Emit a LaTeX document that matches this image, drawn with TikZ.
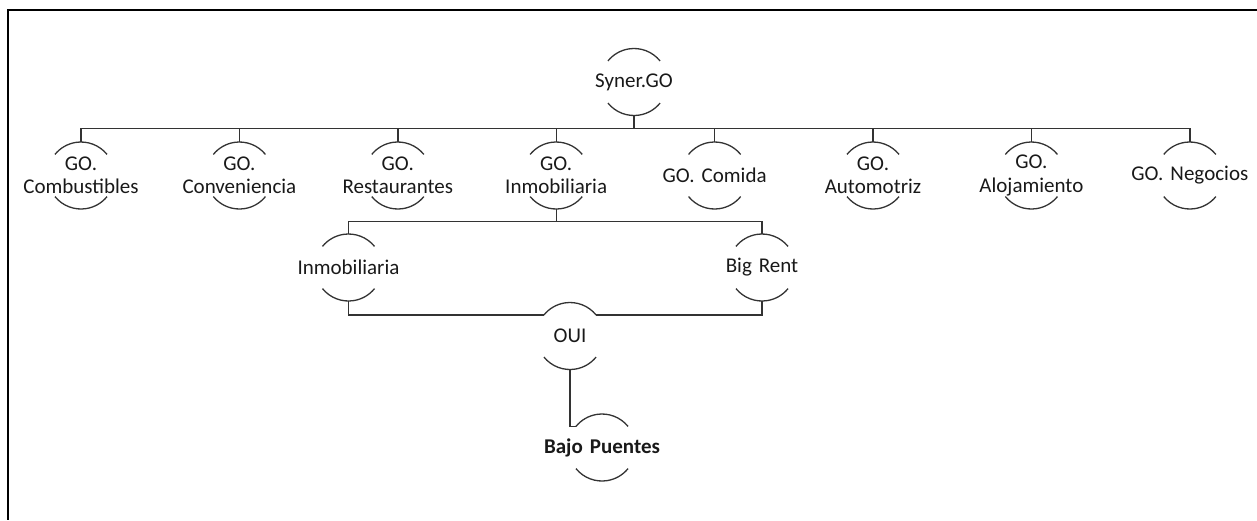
\documentclass[tikz,border=0pt]{standalone}
\usepackage{fontspec}
\setmainfont{Carlito}
\usetikzlibrary{positioning,calc}

\begin{document}
\begin{tikzpicture}[
    x=1pt, y=-1pt,
    node distance=38pt,
    unit/.style={rectangle, inner sep=0pt, minimum height=67pt, text width=120pt, align=center, text=black!90, font=\fontsize{21}{23.5}\selectfont},
    rim/.style={draw=black!80, line width=1.3pt},
    link/.style={draw=black!80, line width=1.4pt}
]
\useasboundingbox (0,0) rectangle (1257,520);

% Frame
\draw[line width=2.5pt] (1257,10) -- (8,10) -- (8,520);

% Top
\node[unit] (syner) at (634,82) {Syner.GO};

% Business units
\node[unit] (comb) at (81,175.5) {GO.\\Combustibles};
\node[unit, right=of comb] (conv) {GO.\\Conveniencia};
\node[unit, right=of conv] (rest) {GO.\\Restaurantes};
\node[unit, right=of rest] (inmo) {GO.\\Inmobiliaria};
\node[unit, right=of inmo] (comida) {GO. Comida};
\node[unit, right=of comida] (auto) {GO.\\Automotriz};
\node[unit, right=of auto] (aloj) {GO.\\Alojamiento};
\node[unit, right=of aloj] (nego) {GO. Negocios};

% Real estate branch
\node[unit] (inm) at (348.5,267.5) {Inmobiliaria};
\node[unit] (big) at (762,267.5) {Big Rent};
\node[unit] (oui) at (570,336) {OUI};
\node[unit, font=\fontsize{21}{23.5}\selectfont\bfseries] (bajo) at (602,447.5) {Bajo Puentes};

% Arcs
\foreach \n in {syner,comb,conv,rest,inmo,comida,auto,aloj,nego,inm,big,oui,bajo}
  \draw[rim] (\n.center) ++(39:33.5pt) arc[start angle=39, end angle=141, radius=33.5pt]
             (\n.center) ++(-141:33.5pt) arc[start angle=-141, end angle=-39, radius=33.5pt];

% Links
\foreach \c in {comb,conv,rest,inmo,comida,auto,aloj,nego}
  \draw[link] (syner.south) -- ++(0,12.5) -| (\c.north);
\draw[link] (inmo.south) -- ++(0,12) -| (inm.north);
\draw[link] (inmo.south) -- ++(0,12) -| (big.north);
\draw[link] (inm.south) |- ($(oui.center)+(141:33.5pt)$);
\draw[link] (big.south) |- ($(oui.center)+(39:33.5pt)$);
\draw[link] (oui.south) |- ($(bajo.center)+(141:33.5pt)$);
\end{tikzpicture}
\end{document}
